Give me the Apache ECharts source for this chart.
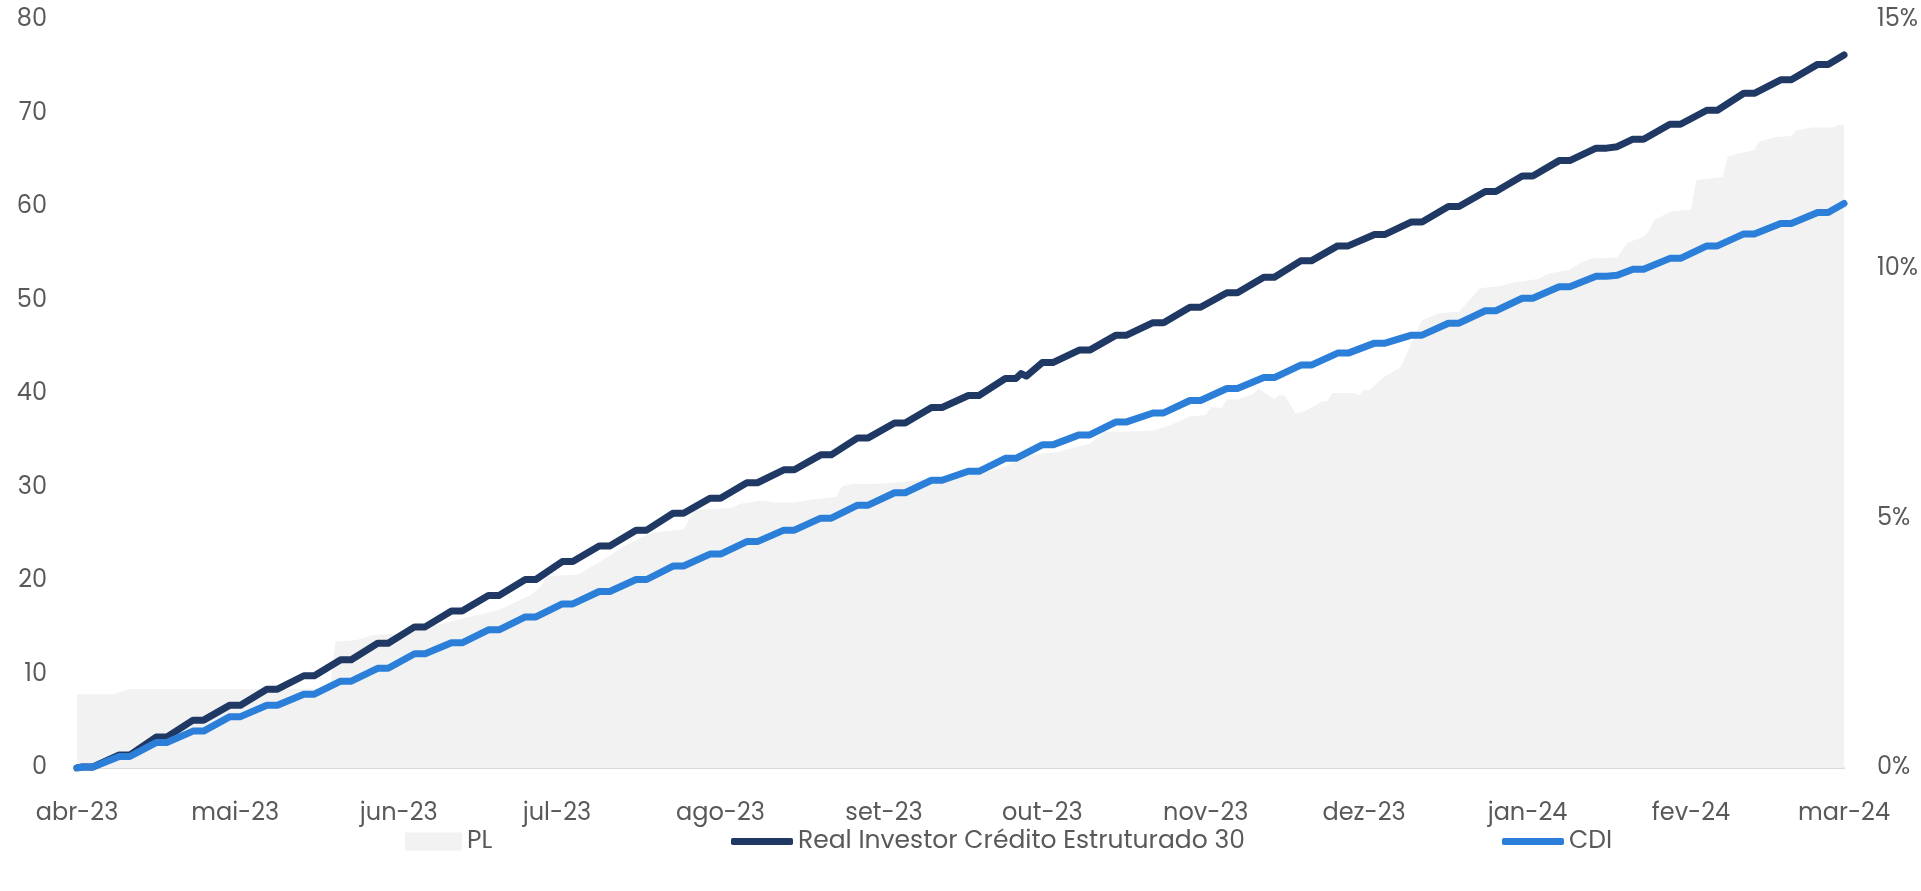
<!DOCTYPE html>
<html>
<head>
<meta charset="utf-8">
<script src="https://cdn.jsdelivr.net/npm/echarts@6/dist/echarts.min.js"></script>
<style>
  html, body { margin: 0; padding: 0; background: #fff; }
  #chart { width: 1921px; height: 891px; }
</style>
</head>
<body>
<div id="chart"></div>
<script>
// x axis: month ticks and their labels
const monthTicks = ['2023-04-01', '2023-05-01', '2023-06-01', '2023-07-01', '2023-08-01', '2023-09-01',
  '2023-10-01', '2023-11-01', '2023-12-01', '2024-01-01', '2024-02-01', '2024-03-01'];
const monthLabels = ['abr-23', 'mai-23', 'jun-23', 'jul-23', 'ago-23', 'set-23',
  'out-23', 'nov-23', 'dez-23', 'jan-24', 'fev-24', 'mar-24'];

// cumulative return (%) held over each weekend (Sunday..Tuesday), week by week from 2023-04-02
const firstWeekend = '2023-04-02';
const realWeekly = [0.02, 0.26, 0.62, 0.96, 1.26, 1.58, 1.85, 2.17, 2.50, 2.83, 3.15, 3.46,
  3.78, 4.14, 4.45, 4.77, 5.11, 5.41, 5.72, 5.98, 6.28, 6.62, 6.92, 7.23,
  7.47, 7.81, 8.13, 8.38, 8.68, 8.93, 9.24, 9.53, 9.84, 10.17, 10.47, 10.70,
  10.95, 11.26, 11.56, 11.87, 12.18, 12.43, 12.61, 12.91, 13.19, 13.53, 13.80, 14.11];
const cdiWeekly = [0.02, 0.23, 0.51, 0.74, 1.03, 1.26, 1.48, 1.74, 2.00, 2.29, 2.51, 2.77,
  3.03, 3.29, 3.54, 3.78, 4.05, 4.29, 4.54, 4.77, 5.01, 5.27, 5.52, 5.77,
  5.95, 6.21, 6.48, 6.68, 6.94, 7.12, 7.37, 7.61, 7.83, 8.08, 8.32, 8.52,
  8.68, 8.92, 9.17, 9.42, 9.65, 9.86, 10.00, 10.22, 10.47, 10.71, 10.92, 11.14];
// odd days, plus first and last values
const realExtra = [['2023-04-01', 0], ['2023-09-27', 7.91], ['2023-09-28', 7.86], ['2024-01-18', 12.46], ['2024-03-01', 14.30]];
const cdiExtra = [['2023-04-01', 0], ['2024-01-18', 9.88], ['2024-03-01', 11.32]];

// PL (left axis)
const plPoints = [
  ['2023-04-01', 7.9], ['2023-04-08', 7.9], ['2023-04-11', 8.45], ['2023-05-19', 8.45],
  ['2023-05-20', 13.5], ['2023-05-24', 13.7], ['2023-05-27', 14.2], ['2023-06-02', 14.4],
  ['2023-06-04', 15.2], ['2023-06-08', 15.3], ['2023-06-17', 16.5], ['2023-06-20', 16.9],
  ['2023-06-26', 18.5], ['2023-06-28', 19.4], ['2023-06-29', 20.5], ['2023-07-05', 20.7],
  ['2023-07-09', 22.0], ['2023-07-14', 23.8], ['2023-07-19', 25.2], ['2023-07-25', 25.5],
  ['2023-07-27', 27.6], ['2023-08-03', 27.8], ['2023-08-05', 28.3], ['2023-08-09', 28.6],
  ['2023-08-11', 28.4], ['2023-08-15', 28.4], ['2023-08-18', 28.7], ['2023-08-23', 29.0],
  ['2023-08-24', 30.1], ['2023-08-26', 30.4], ['2023-08-31', 30.4], ['2023-09-04', 30.6],
  ['2023-09-08', 30.8], ['2023-09-14', 31.0], ['2023-09-23', 32.0], ['2023-09-29', 33.5],
  ['2023-10-04', 33.8], ['2023-10-10', 34.7], ['2023-10-13', 36.0], ['2023-10-18', 36.0],
  ['2023-10-22', 36.1], ['2023-10-25', 36.6], ['2023-10-29', 37.6], ['2023-11-01', 37.75],
  ['2023-11-02', 38.6], ['2023-11-04', 38.5], ['2023-11-05', 39.4], ['2023-11-07', 39.4],
  ['2023-11-10', 40.0], ['2023-11-11', 40.6], ['2023-11-14', 39.4], ['2023-11-15', 39.9],
  ['2023-11-16', 39.8], ['2023-11-18', 37.9], ['2023-11-20', 38.2], ['2023-11-23', 39.2],
  ['2023-11-24', 39.2], ['2023-11-25', 40.1], ['2023-11-29', 40.1], ['2023-11-30', 39.9],
  ['2023-12-01', 40.4], ['2023-12-02', 40.4], ['2023-12-05', 41.9], ['2023-12-08', 42.9],
  ['2023-12-10', 45.5], ['2023-12-12', 47.9], ['2023-12-15', 48.6], ['2023-12-19', 48.8],
  ['2023-12-23', 51.3], ['2023-12-27', 51.55], ['2023-12-29', 51.9], ['2024-01-03', 52.3],
  ['2024-01-05', 52.9], ['2024-01-09', 53.3], ['2024-01-11', 54.0], ['2024-01-13', 54.5],
  ['2024-01-18', 54.6], ['2024-01-20', 56.2], ['2024-01-23', 56.8], ['2024-01-24', 57.4],
  ['2024-01-25', 58.6], ['2024-01-28', 59.5], ['2024-02-01', 59.7], ['2024-02-02', 62.9],
  ['2024-02-07', 63.2], ['2024-02-08', 65.4], ['2024-02-10', 65.7], ['2024-02-13', 66.1],
  ['2024-02-14', 67.0], ['2024-02-17', 67.5], ['2024-02-20', 67.6], ['2024-02-21', 68.2],
  ['2024-02-24', 68.5], ['2024-02-28', 68.5], ['2024-02-29', 68.8], ['2024-03-01', 68.8]
];

function toTime(s) {
  const p = s.split('-').map(Number);
  return new Date(p[0], p[1] - 1, p[2]).getTime();
}
function addDays(t, n) {
  const d = new Date(t);
  return new Date(d.getFullYear(), d.getMonth(), d.getDate() + n).getTime();
}

// weekend flat: same value on Sunday and Tuesday of each week
function buildLine(weekly, extra) {
  const pts = [];
  const start = toTime(firstWeekend);
  weekly.forEach((v, k) => {
    const sun = addDays(start, 7 * k);
    pts.push([sun, v]);
    pts.push([addDays(sun, 2), v]);
  });
  extra.forEach(e => pts.push([toTime(e[0]), e[1]]));
  pts.sort((a, b) => a[0] - b[0]);
  return pts;
}

const tickTimes = monthTicks.map(toTime);
const font = 'Poppins, "Open Sans", sans-serif';
const textColor = '#595959';
const legendText = { color: textColor, fontSize: 25, fontFamily: font };

let chart = echarts.init(document.getElementById('chart'));
let option = {
  animation: false,
  backgroundColor: '#fff',
  grid: { left: 77, right: 77, top: 20, bottom: 123 },
  legend: [
    {
      data: ['PL'], left: 405, top: 829, padding: 0, icon: 'rect', itemWidth: 57, itemHeight: 18,
      textStyle: legendText,
    },
    {
      data: ['Real Investor Crédito Estruturado 30'], left: 731, top: 829, padding: 0, icon: 'roundRect',
      itemWidth: 62, itemHeight: 7,
      textStyle: legendText,
    },
    {
      data: ['CDI'], left: 1502, top: 829, padding: 0, icon: 'roundRect', itemWidth: 62, itemHeight: 7,
      textStyle: legendText,
    },
  ],
  // dates as timestamps on a value axis, labelled at the first day of each month
  xAxis: {
    type: 'value',
    min: tickTimes[0],
    max: tickTimes[tickTimes.length - 1],
    axisLine: { lineStyle: { color: '#d9d9d9', width: 2 } },
    axisTick: { show: false },
    splitLine: { show: false },
    axisLabel: {
      customValues: tickTimes,
      showMinLabel: true,
      showMaxLabel: true,
      hideOverlap: false,
      margin: 34,
      color: textColor,
      fontSize: 24,
      fontFamily: font,
      formatter: (v) => {
        const i = tickTimes.findIndex(t => Math.abs(t - v) < 43200000);
        return i >= 0 ? monthLabels[i] : '';
      },
    },
  },
  yAxis: [
    {
      type: 'value', min: 0, max: 80, interval: 10,
      axisLine: { show: false }, axisTick: { show: false }, splitLine: { show: false },
      axisLabel: { color: textColor, fontSize: 24, fontFamily: font, margin: 30 },
    },
    {
      type: 'value', min: 0, max: 15, interval: 5, position: 'right',
      axisLine: { show: false }, axisTick: { show: false }, splitLine: { show: false },
      axisLabel: { color: textColor, fontSize: 24, fontFamily: font, margin: 33, formatter: '{value}%' },
    },
  ],
  series: [
    {
      name: 'PL',
      type: 'line',
      yAxisIndex: 0,
      data: plPoints.map(p => [toTime(p[0]), p[1]]),
      symbol: 'none',
      lineStyle: { width: 0 },
      itemStyle: { color: '#f2f2f2' },
      areaStyle: { color: '#f2f2f2', opacity: 1 },
      z: 1,
    },
    {
      name: 'Real Investor Crédito Estruturado 30',
      type: 'line',
      yAxisIndex: 1,
      data: buildLine(realWeekly, realExtra),
      symbol: 'none',
      itemStyle: { color: '#1f3864' },
      lineStyle: { color: '#1f3864', width: 7, cap: 'round', join: 'round' },
      z: 3,
    },
    {
      name: 'CDI',
      type: 'line',
      yAxisIndex: 1,
      data: buildLine(cdiWeekly, cdiExtra),
      symbol: 'none',
      itemStyle: { color: '#2b7fd8' },
      lineStyle: { color: '#2b7fd8', width: 7, cap: 'round', join: 'round' },
      z: 4,
    },
  ],
};
chart.setOption(option);
</script>
</body>
</html>
